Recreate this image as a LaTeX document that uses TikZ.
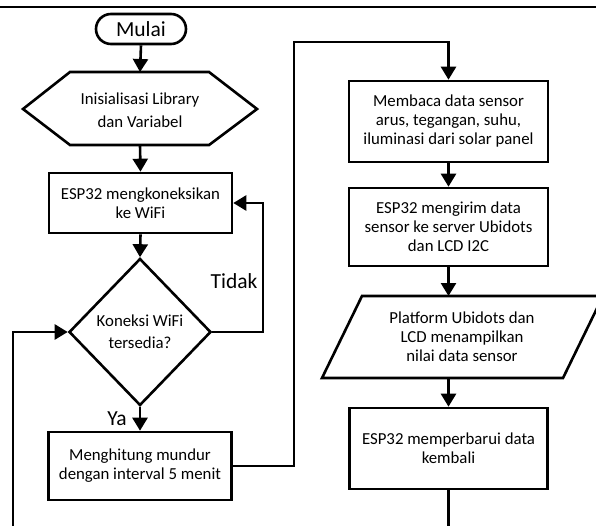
\documentclass[tikz,border=0pt]{standalone}
\usepackage{fontspec}
\setmainfont{Carlito}
\usetikzlibrary{arrows.meta, shapes.geometric}

\tikzset{
  flow/.style={line width=2.6pt, -{Triangle[length=13pt,width=15pt]}},
  plain/.style={line width=2.6pt},
  proc/.style={draw, line width=2.6pt, align=center, inner sep=0pt,
    font=\fontsize{16.8}{19}\selectfont},
  lbl/.style={font=\fontsize{21.5}{24}\selectfont, inner sep=0pt},
}

\begin{document}
\begin{tikzpicture}[x=1pt, y=-1pt]
    \useasboundingbox (0,0) rectangle (596,526);
    \clip (0,0) rectangle (596,526);

    % Header rule
    \draw[line width=2pt] (0,7) -- (596,7);

    % Left column
    \node (mulai) at (141,29) [draw, line width=2.6pt, rounded corners=15pt,
        minimum width=90pt, minimum height=30pt, lbl, inner sep=0pt] {Mulai};

    \coordinate (initAtas) at (140,72);
    \coordinate (initBawah) at (140,145);
    \draw[plain, line join=miter] (23,109) -- (70,72) -- (209,72) -- (257,109)
        -- (209,145) -- (70,145) -- cycle; % preparation hexagon
    \node (init) at (140,110) [align=center, font=\fontsize{16.8}{23}\selectfont]
        {Inisialisasi Library\\dan Variabel};

    \node (konek) at (140.5,203) [proc, minimum width=183pt, minimum height=60pt]
        {ESP32 mengkoneksikan\\ke WiFi};
    \node (cek) at (140,332) [diamond, draw, line width=2.6pt, align=center,
        minimum width=142pt, minimum height=147pt, inner sep=0pt,
        font=\fontsize{16.8}{22}\selectfont] {Koneksi WiFi\\tersedia?};
    \node (hitung) at (140,466) [proc, minimum width=183pt, minimum height=68pt]
        {Menghitung mundur\\dengan interval 5 menit};

    \node (tidak) at (234,281) [lbl] {Tidak};
    \node (ya) at (117,419) [lbl] {Ya};

    % Right column
    \node (baca) at (448.5,121.5) [proc, minimum width=199pt, minimum height=81pt]
        {Membaca data sensor\\arus, tegangan, suhu,\\iluminasi dari solar panel};
    \node (kirim) at (448.5,227) [proc, minimum width=199pt, minimum height=78pt]
        {ESP32 mengirim data\\sensor ke server Ubidots\\dan LCD I2C};

    \coordinate (tampilAtas) at (448.5,296);
    \coordinate (tampilBawah) at (448.5,378);
    \draw[plain, line join=miter] (362,296) -- (603,296) -- (563,378)
        -- (322,378) -- cycle; % data parallelogram
    \node (tampil) at (462,337) [align=center, font=\fontsize{16.8}{19}\selectfont]
        {Platform Ubidots dan\\LCD menampilkan\\nilai data sensor};

    \node (perbarui) at (448.5,448.5) [proc, minimum width=198pt, minimum height=81pt]
        {ESP32 memperbarui data\\kembali};

    % Connectors
    \coordinate (belokTidak) at (263,332);
    \coordinate (belokAtas) at (294,42);
    \coordinate (ujungKiri) at (13,526);
    \coordinate (ujungKanan) at (448.5,526);

    \draw[flow] (mulai.south) -- (initAtas);
    \draw[flow] (initBawah) -- (konek.north);
    \draw[flow] (konek.south) -- (cek.north);
    \draw[flow] (cek.east) -- (belokTidak) |- (konek.east);
    \draw[flow] (cek.south) -- (hitung.north);
    \draw[flow] (hitung.east) -| (belokAtas) -| (baca.north);
    \draw[flow] (baca.south) -- (kirim.north);
    \draw[flow] (kirim.south) -- (tampilAtas);
    \draw[flow] (tampilBawah) -- (perbarui.north);
    \draw[plain] (perbarui.south) -- (ujungKanan);
    \draw[flow] (ujungKiri) |- (cek.west);
\end{tikzpicture}
\end{document}
